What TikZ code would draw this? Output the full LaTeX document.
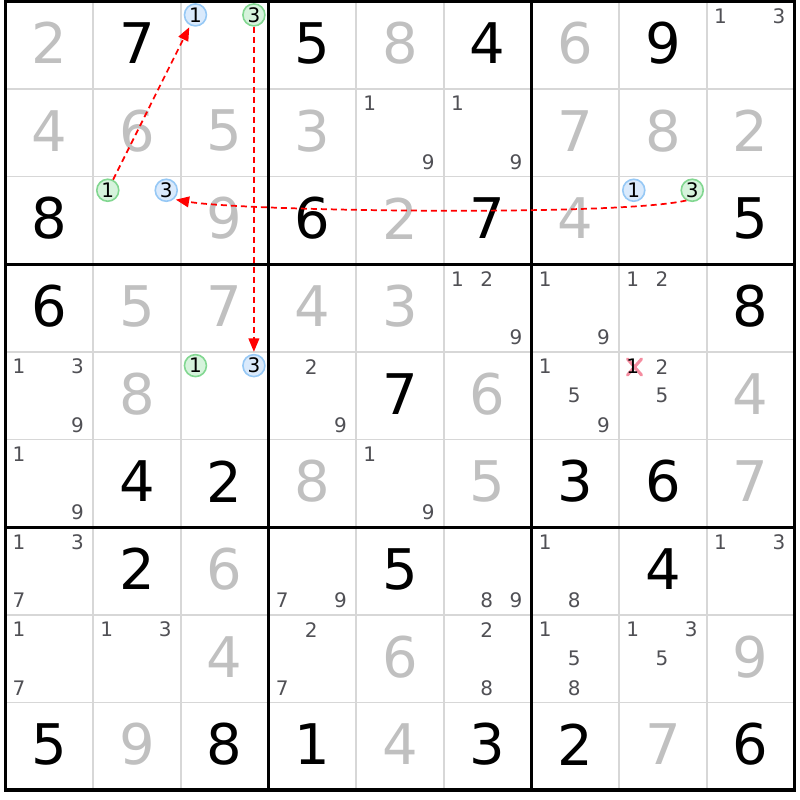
\documentclass[tikz,border=0pt]{standalone}
\usepackage{fontspec}
\setmainfont{DejaVu Sans}
\usetikzlibrary{arrows.meta}

\definecolor{solvedgray}{RGB}{192,192,192}
\definecolor{candgray}{RGB}{80,80,85}
\definecolor{gridgray}{RGB}{215,215,215}
\definecolor{linkblue}{RGB}{150,200,245}
\definecolor{linkbluefill}{RGB}{218,234,252}
\definecolor{linkgreen}{RGB}{130,215,145}
\definecolor{linkgreenfill}{RGB}{214,243,220}
\definecolor{crosspink}{RGB}{245,140,160}

\tikzset{every picture/.style={line width=0.75pt}}
\tikzset{
  given/.style={inner sep=0pt, font=\fontsize{42}{42}\selectfont},
  solved/.style={given, text=solvedgray},
  cand/.style={inner sep=0pt, text=candgray, font=\fontsize{15}{15}\selectfont},
  oncircle/.style={circle, minimum size=16.5pt, inner sep=0pt, line width=1.2pt, font=\fontsize{15}{15}\selectfont},
  onblue/.style={oncircle, draw=linkblue, fill=linkbluefill},
  ongreen/.style={oncircle, draw=linkgreen, fill=linkgreenfill},
  thingrid/.style={draw=gridgray, line width=1.1pt},
  boxline/.style={draw=black, line width=2.3pt},
  link/.style={draw=red, line width=1.3pt, dash pattern=on 4.5pt off 3pt, shorten >=1.5pt, -{Triangle[length=10pt,width=8pt]}},
}

\begin{document}
\begin{tikzpicture}[x=0.75pt,y=0.75pt,yscale=-1,xscale=1]
\useasboundingbox (0,0) rectangle (800,800);

% cell lines
\foreach \i in {1,2,4,5,7,8} {
  \draw[thingrid] ({5.5+\i*87.67},1.3) -- ({5.5+\i*87.67},790.3);
  \draw[thingrid] (5.5,{1.3+\i*87.67}) -- (794.5,{1.3+\i*87.67});
}
% box lines
\foreach \i in {3,6} {
  \draw[boxline] ({5.5+\i*87.67},1.3) -- ({5.5+\i*87.67},790.3);
  \draw[boxline] (5.5,{1.3+\i*87.67}) -- (794.5,{1.3+\i*87.67});
}
\draw[boxline, line width=2.8pt] (5.5,1.3) rectangle (794.5,790.3);

% given digits
\foreach \r/\c/\d in {1/2/7, 1/4/5, 1/6/4, 1/8/9, 3/1/8, 3/4/6, 3/6/7, 3/9/5, 4/1/6, 4/9/8, 5/5/7, 6/2/4, 6/3/2, 6/7/3, 6/8/6, 7/2/2, 7/5/5, 7/8/4, 9/1/5, 9/3/8, 9/4/1, 9/6/3, 9/7/2, 9/9/6}
  \node[given] (g\r\c) at ({5.5+(\c-0.5)*87.67},{-0.7+(\r-0.5)*87.67}) {\d};

% solved digits
\foreach \r/\c/\d in {1/1/2, 1/5/8, 1/7/6, 2/1/4, 2/2/6, 2/3/5, 2/4/3, 2/7/7, 2/8/8, 2/9/2, 3/3/9, 3/5/2, 3/7/4, 4/2/5, 4/3/7, 4/4/4, 4/5/3, 5/2/8, 5/6/6, 5/9/4, 6/4/8, 6/6/5, 6/9/7, 7/3/6, 8/3/4, 8/5/6, 8/9/9, 9/2/9, 9/5/4, 9/8/7}
  \node[solved] (s\r\c) at ({5.5+(\c-0.5)*87.67},{-0.7+(\r-0.5)*87.67}) {\d};

% pencil marks
\foreach \r/\c/\d in {1/9/1, 1/9/3, 2/5/1, 2/5/9, 2/6/1, 2/6/9, 4/6/1, 4/6/2, 4/6/9, 4/7/1, 4/7/9, 4/8/1, 4/8/2, 5/1/1, 5/1/3, 5/1/9, 5/4/2, 5/4/9, 5/7/1, 5/7/5, 5/7/9, 5/8/2, 5/8/5, 6/1/1, 6/1/9, 6/5/1, 6/5/9, 7/1/1, 7/1/3, 7/1/7, 7/4/7, 7/4/9, 7/6/8, 7/6/9, 7/7/1, 7/7/8, 7/9/1, 7/9/3, 8/1/1, 8/1/7, 8/2/1, 8/2/3, 8/4/2, 8/4/7, 8/6/2, 8/6/8, 8/7/1, 8/7/5, 8/7/8, 8/8/1, 8/8/3, 8/8/5}
  \node[cand] (k\r\c\d) at ({4.5+(\c-1)*87.67+(mod(\d-1,3)+0.5)*29.22},{1.3+(\r-1)*87.67+(int((\d-1)/3)+0.5)*29.22}) {\d};

% eliminated candidate
\draw[crosspink, line width=2.3pt, line cap=round] (627.5,359) -- (641.5,375) (627.5,375) -- (641.5,359);
\node[cand, text=black] (k581) at (632.8,366.6) {1};

% chain candidates
\node[onblue] (o131) at (195.45,14.9) {1};
\node[ongreen] (o133) at (253.9,14.9) {3};
\node[ongreen] (o321) at (107.78,190.25) {1};
\node[onblue] (o323) at (166.23,190.25) {3};
\node[onblue] (o381) at (633.8,190.25) {1};
\node[ongreen] (o383) at (692.25,190.25) {3};
\node[ongreen] (o531) at (195.45,365.6) {1};
\node[onblue] (o533) at (253.9,365.6) {3};

% links
\draw[link] (o321) -- (o131);
\draw[link] (o133) -- (o533);
\draw[link] (o383.-120) .. controls +(-70,16) and +(70,12) .. (o323.-50);

\end{tikzpicture}
\end{document}
